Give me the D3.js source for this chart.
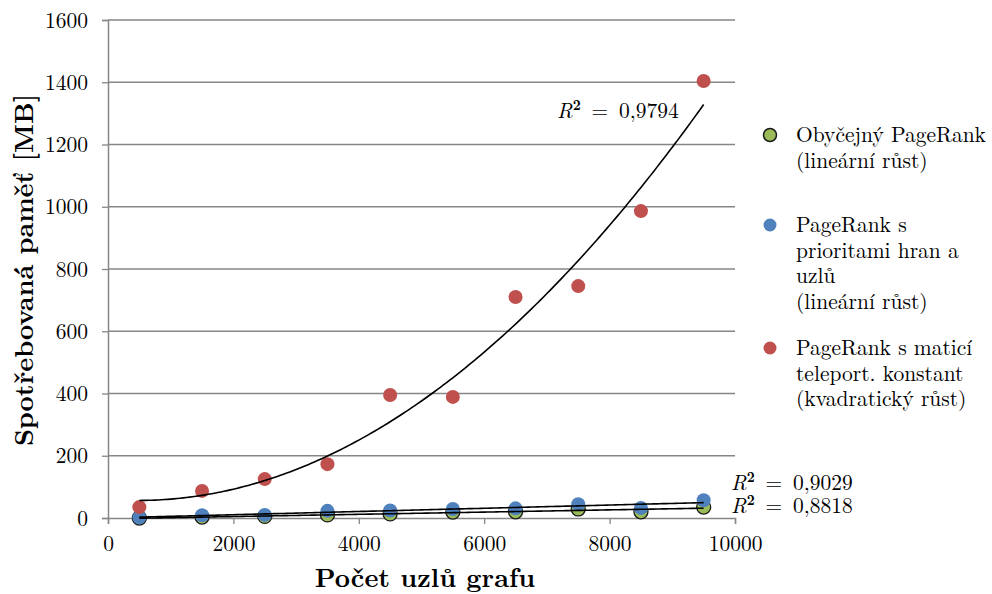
<!DOCTYPE html>
<html><head><meta charset="utf-8">
<script src="https://cdn.jsdelivr.net/npm/d3@7/dist/d3.min.js"></script>
<style>body{margin:0;background:#fff}svg{display:block}</style>
</head><body>
<svg id="c" width="992" height="594"></svg>
<script>
const xValues = [500,1500,2500,3500,4500,5500,6500,7500,8500,9500];
const seriesGreen = [0,3,5,10,13,19,20,29,20,35];
const seriesBlue  = [2,9,10,23,24,29,31,44,32,57];
const seriesRed   = [35,87,125,173,395,389,710,745,986,1404];
const xTicks = [0,2000,4000,6000,8000,10000];
const yTicks = [0,200,400,600,800,1000,1200,1400,1600];
const legendLabels = [
  ["Obyčejný PageRank","(lineární růst)"],
  ["PageRank s","prioritami hran a","uzlů","(lineární růst)"],
  ["PageRank s maticí","teleport. konstant","(kvadratický růst)"]
];
const r2Labels = ["0,8818","0,9029","0,9794"];

const FONT = '"Latin Modern Roman","CMU Serif","Liberation Serif",serif';
const FS = 21.5;
const svg = d3.select("#c");
const x = d3.scaleLinear().domain([0,10000]).range([108,735]);
const y = d3.scaleLinear().domain([0,1600]).range([518,20]);
const grid = "#868686";

svg.append("g").selectAll("line").data(yTicks.slice(1)).join("line")
  .attr("x1",x(0)).attr("x2",x(10000)).attr("y1",d=>y(d)).attr("y2",d=>y(d))
  .attr("stroke",grid).attr("stroke-width",1.3);

const fmt = d=>String(d);
const yAxis = svg.append("g").attr("transform",`translate(${x(0)},0)`)
  .call(d3.axisLeft(y).tickValues(yTicks).tickSize(6).tickPadding(14).tickFormat(fmt));
const xAxis = svg.append("g").attr("transform",`translate(0,${y(0)})`)
  .call(d3.axisBottom(x).tickValues(xTicks).tickSize(6).tickPadding(9).tickFormat(fmt));
[xAxis,yAxis].forEach(a=>{
  a.attr("font-family",null);
  a.select(".domain").attr("stroke",grid).attr("stroke-width",1.5);
  a.selectAll(".tick line").attr("stroke",grid).attr("stroke-width",1.3);
  a.selectAll("text").style("font-family",FONT).style("font-size",FS+"px").attr("fill","#000");
});
xAxis.selectAll("text").attr("y",33).attr("dy",0);
yAxis.selectAll("text").attr("dy","0.33em");

function polyfit(xs, ys, deg){
  const n=deg+1, A=[...Array(n)].map(()=>Array(n+1).fill(0));
  xs.forEach((xv,i)=>{
    for(let r=0;r<n;r++){ for(let c=0;c<n;c++) A[r][c]+=Math.pow(xv,r+c); A[r][n]+=ys[i]*Math.pow(xv,r); }
  });
  for(let i=0;i<n;i++){
    let m=i; for(let k=i+1;k<n;k++) if(Math.abs(A[k][i])>Math.abs(A[m][i])) m=k;
    [A[i],A[m]]=[A[m],A[i]];
    for(let k=0;k<n;k++){ if(k===i) continue; const f=A[k][i]/A[i][i]; for(let c=i;c<=n;c++) A[k][c]-=f*A[i][c]; }
  }
  const coef=A.map((row,i)=>row[n]/row[i]);
  return xv=>coef.reduce((s,c,i)=>s+c*Math.pow(xv,i),0);
}
const line = d3.line().x(d=>x(d[0])).y(d=>y(d[1]));
function drawFit(ys,deg){
  const f=polyfit(xValues,ys,deg);
  const pts=d3.range(500,9500.1,50).map(v=>[v,f(v)]);
  svg.append("path").attr("d",line(pts)).attr("fill","none").attr("stroke","#000").attr("stroke-width",1.6);
}

const series = [
  {vals:seriesGreen, color:"#9BBB59", stroke:"#1a1a1a", deg:1},
  {vals:seriesBlue, color:"#4F81BD", stroke:"none", deg:1},
  {vals:seriesRed, color:"#C0504D", stroke:"none", deg:2}
];
series.forEach(s=>{
  svg.append("g").selectAll("circle").data(xValues).join("circle")
    .attr("cx",d=>x(d)).attr("cy",(d,i)=>y(s.vals[i])).attr("r",7)
    .attr("fill",s.color).attr("stroke",s.stroke).attr("stroke-width",1.3);
});
series.forEach(s=>drawFit(s.vals,s.deg));

function txt(xp,yp,size){
  return svg.append("text").attr("x",xp).attr("y",yp).style("font-family",FONT).style("font-size",size+"px").attr("fill","#000");
}
function r2(xp,yp,val){
  const t=txt(xp,yp,FS);
  t.append("tspan").text("R").style("font-style","italic");
  t.append("tspan").text("2").attr("dy",-8).style("font-size","14px").style("font-weight","bold");
  t.append("tspan").text("\u00A0=\u00A0"+val).attr("dy",8);
}
r2(731,513,r2Labels[0]);
r2(731,490,r2Labels[1]);
r2(557,118,r2Labels[2]);

const legY=[135,225,348];
const legColors=[["#9BBB59","#1a1a1a"],["#4F81BD","none"],["#C0504D","none"]];
legendLabels.forEach((lines,i)=>{
  svg.append("circle").attr("cx",770).attr("cy",legY[i]).attr("r",6.5)
    .attr("fill",legColors[i][0]).attr("stroke",legColors[i][1]).attr("stroke-width",1.5);
  const t=txt(796,legY[i]+7,FS);
  lines.forEach((l,j)=>t.append("tspan").attr("x",796).attr("dy",j?25.5:0).text(l));
});

txt(425,587,26.5).attr("text-anchor","middle").style("font-weight","bold").text("Počet uzlů grafu");
txt(0,0,26.5).attr("transform","translate(33,270) rotate(-90)").attr("text-anchor","middle")
  .style("font-weight","bold").text("Spotřebovaná paměť [MB]");
</script>
</body></html>
